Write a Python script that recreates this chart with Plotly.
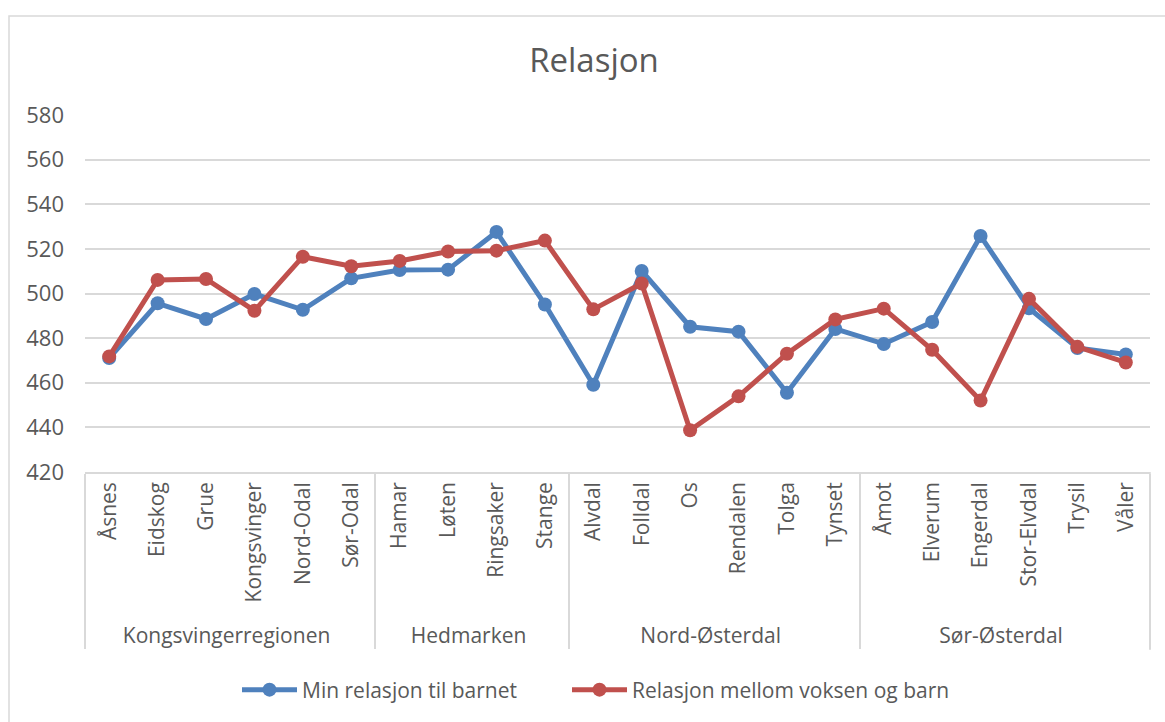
import plotly.graph_objects as go

regions = ["Kongsvingerregionen"] * 6 + ["Hedmarken"] * 4 + ["Nord-Østerdal"] * 6 + ["Sør-Østerdal"] * 6
municipalities = ["Åsnes", "Eidskog", "Grue", "Kongsvinger", "Nord-Odal", "Sør-Odal",
                  "Hamar", "Løten", "Ringsaker", "Stange",
                  "Alvdal", "Folldal", "Os", "Rendalen", "Tolga", "Tynset",
                  "Åmot", "Elverum", "Engerdal", "Stor-Elvdal", "Trysil", "Våler"]
min_relasjon = [471.1, 495.6, 488.6, 499.8, 492.7, 506.8,
                510.5, 510.7, 527.6, 495.1,
                459.1, 510.1, 485.1, 482.9, 455.5,
                484.1, 477.4, 487.2, 525.8, 493.4, 475.6, 472.7]
relasjon_voksen_barn = [471.8, 506.1, 506.5, 492.3, 516.5, 512.2,
                        514.6, 518.8, 519.2, 523.7,
                        492.9, 504.5, 438.7, 453.9, 473.0,
                        488.4, 493.2, 474.8, 452.0, 497.6, 476.1, 469.1]

BLUE = "#4F81BD"
RED = "#C0504D"
GRID = "#D9D9D9"
TXT = "#595959"
FONT = "Open Sans"

fig = go.Figure()
fig.add_trace(go.Scatter(
    x=[regions, municipalities], y=min_relasjon, name="Min relasjon til barnet",
    mode="lines+markers", line=dict(color=BLUE, width=5),
    marker=dict(color=BLUE, size=14), legend="legend"))
fig.add_trace(go.Scatter(
    x=[regions, municipalities], y=relasjon_voksen_barn, name="Relasjon mellom voksen og barn",
    mode="lines+markers", line=dict(color=RED, width=5),
    marker=dict(color=RED, size=14), legend="legend2"))

W, H = 1165, 722
L, R, T, B = 85, 15, 115, 250
pw, ph = W - L - R, H - T - B


def px_x(p):
    return (p - L) / pw


def px_y(p):
    return (H - B - p) / ph


legend_style = dict(orientation="h", xanchor="left", y=px_y(690), yanchor="middle",
                    font=dict(family=FONT, size=21, color=TXT), itemwidth=55,
                    bgcolor="rgba(0,0,0,0)")

fig.update_layout(
    width=W, height=H,
    margin=dict(l=L, r=R, t=T, b=B, autoexpand=False),
    paper_bgcolor="white", plot_bgcolor="white",
    font=dict(family=FONT, color=TXT, size=21),
    title=dict(text="Relasjon", x=594 / W, xanchor="center", y=1 - 60 / H, yanchor="middle",
               font=dict(family=FONT, size=33, color=TXT)),
    showlegend=True,
    legend=dict(x=px_x(237), **legend_style),
    legend2=dict(x=px_x(567), **legend_style),
    xaxis=dict(type="multicategory", tickangle=-90, showdividers=True, dividercolor=GRID,
               dividerwidth=1.5, showline=True, linecolor=GRID, linewidth=1.5, showgrid=False,
               ticks="", tickfont=dict(family=FONT, size=21, color=TXT), automargin=False,
               range=[-0.5, 21.5]),
    yaxis=dict(range=[420, 580], dtick=20, tick0=420, showgrid=True, gridcolor=GRID, gridwidth=1.5,
               zeroline=False, showline=False, ticks="", tickfont=dict(family=FONT, size=22, color=TXT),
               automargin=False, ticklabelstandoff=20),
    shapes=[
        dict(type="rect", xref="paper", yref="paper", x0=px_x(9), x1=px_x(1175), y0=px_y(740), y1=px_y(16),
             line=dict(color=GRID, width=1.5), fillcolor="rgba(0,0,0,0)", layer="below"),
        dict(type="line", xref="paper", yref="paper", x0=1, x1=1, y0=0, y1=px_y(650),
             line=dict(color=GRID, width=1.5)),
    ],
)

fig.write_html("out.html", config={"displayModeBar": False},
               post_script="document.body.style.margin='0';document.body.style.padding='0';")
